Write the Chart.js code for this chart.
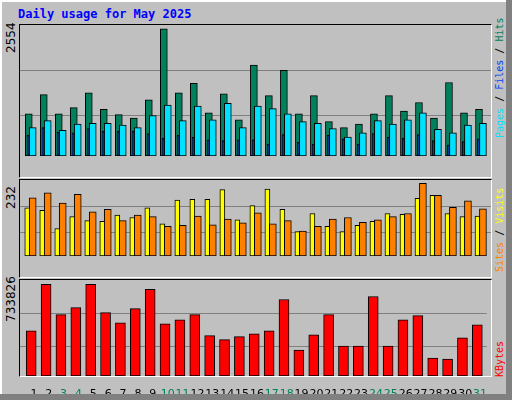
<!DOCTYPE html>
<html>
<head>
<meta charset="utf-8">
<script src="https://cdn.jsdelivr.net/npm/chart.js@4"></script>
<style>
body { margin:0; background:#fff; }
#frame { position:absolute; left:0; top:0; width:512px; height:400px; background:#c0c0c0; overflow:hidden; }
#frame:before { content:''; position:absolute; left:0; top:0; width:504px; height:392px; border-left:2px solid #fff; border-top:2px solid #fff; }
#frame:after { content:''; position:absolute; right:0; top:0; width:6px; height:400px; background:#808080; }
#bot { position:absolute; left:0; bottom:0; width:512px; height:6px; background:#808080; }
.box { position:absolute; border-top:1px solid #000; border-left:1px solid #000; border-right:1px solid #fff; border-bottom:1px solid #fff; }
canvas { position:absolute; }
.t { position:absolute; font-family:"DejaVu Sans Mono",monospace; white-space:nowrap; }
.rot { position:absolute; transform-origin:0 0; transform:rotate(-90deg); white-space:nowrap; }
</style>
</head>
<body>
<div id="frame">
  <div class="t" style="left:18px;top:7px;font-size:12px;font-weight:bold;color:#0000ff">Daily usage for May 2025</div>
  <div class="box" style="left:19px;top:24px;width:471px;height:152px"></div>
  <div class="box" style="left:19px;top:179px;width:471px;height:97px"></div>
  <div class="box" style="left:19px;top:279px;width:471px;height:96px"></div>
  <canvas id="c1" style="left:20px;top:25px" width="471" height="151"></canvas>
  <canvas id="c2" style="left:20px;top:180px" width="471" height="96"></canvas>
  <canvas id="c3" style="left:20px;top:280px" width="471" height="116"></canvas>
  <div class="rot" style="left:4px;top:53px;font:12px 'DejaVu Sans',sans-serif">2554</div>
  <div class="rot" style="left:4px;top:209px;font:12px 'DejaVu Sans',sans-serif">232</div>
  <div class="rot" style="left:4px;top:322px;font:12px 'DejaVu Sans',sans-serif">733826</div>
  <div class="rot" style="left:494px;top:138px;font:10px 'DejaVu Sans Mono',monospace"><span style="color:#00e0ff">Pages</span> <span style="color:#000">/</span> <span style="color:#0040ff">Files</span> <span style="color:#000">/</span> <span style="color:#00805c">Hits</span></div>
  <div class="rot" style="left:494px;top:272px;font:10px 'DejaVu Sans Mono',monospace"><span style="color:#ff8000">Sites</span> <span style="color:#000">/</span> <span style="color:#ffff00">Visits</span></div>
  <div class="rot" style="left:494px;top:377px;font:10px 'DejaVu Sans Mono',monospace;color:#ff0000">KBytes</div>
  <div id="bot"></div>
</div>
<script>
const days = Array.from({length: 31}, (_, i) => i + 1);
const weekend = [3, 4, 10, 11, 17, 18, 24, 25, 31];

const hits = [848, 1231, 848, 970, 1266, 935, 830, 761, 1126, 2554, 1266, 1457, 865, 1248, 726, 1823,
  1213, 1718, 848, 1213, 691, 569, 639, 848, 1213, 900, 1074, 761, 1475, 865, 935];
const files = [569, 709, 517, 639, 656, 656, 622, 569, 813, 1022, 709, 1004, 726, 1057, 569, 1004,
  952, 848, 691, 656, 552, 378, 465, 709, 639, 726, 865, 535, 465, 622, 656];
const pages = [413, 569, 482, 465, 552, 500, 500, 500, 448, 360, 413, 378, 326, 308, 326, 326,
  239, 430, 273, 239, 413, 343, 239, 448, 378, 360, 430, 308, 221, 291, 343];
const sites = [154, 146, 88, 126, 113, 111, 131, 123, 154, 103, 179, 181, 181, 212, 116, 161,
  214, 149, 78, 136, 95, 78, 98, 111, 136, 133, 184, 194, 136, 126, 128];
const visits = [186, 202, 169, 197, 141, 149, 113, 131, 126, 95, 98, 128, 100, 118, 106, 138,
  103, 113, 80, 95, 118, 123, 108, 116, 126, 136, 232, 194, 156, 176, 151];
const kbytes = [361700, 733826, 491100, 547700, 733826, 507300, 426400, 539600, 693400, 418300, 450700,
  491100, 323600, 291300, 315500, 337400, 361700, 612500, 207900, 329300, 491100, 240300, 240300,
  636700, 240300, 450700, 483000, 143200, 135100, 305000, 410200];

const XMIN = 0.067, XMAX = 31.45;

function ds(vals, off, w, color, order) {
  return {
    data: vals.map((v, i) => ({x: days[i] + off, y: v})),
    backgroundColor: color, borderColor: '#000', borderWidth: 1,
    barThickness: w, order: order, borderSkipped: false, grouped: false
  };
}

function panel(id, sets, max, showX) {
  new Chart(document.getElementById(id), {
    type: 'bar',
    data: {datasets: sets},
    options: {
      responsive: false, animation: false,
      plugins: {legend: {display: false}, tooltip: {enabled: false}},
      layout: {padding: 0},
      scales: {
        x: {
          type: 'linear', min: XMIN, max: XMAX, display: showX, offset: false,
          grid: {display: false}, border: {display: false},
          afterBuildTicks: s => { s.ticks = days.map(d => ({value: d})); },
          afterFit: s => { s.height = 20; },
          ticks: {
            autoSkip: false, maxRotation: 0, padding: 4,
            font: {family: 'DejaVu Sans', size: 11},
            color: c => weekend.includes(c.tick.value) ? '#00805c' : '#000'
          }
        },
        y: {
          min: 0, max: max,
          afterBuildTicks: s => { s.ticks = [{value: max * 0.31}, {value: max * 0.655}]; },
          afterFit: s => { s.width = 0; },
          ticks: {display: false},
          grid: {color: '#808080', drawTicks: false},
          border: {display: false}
        }
      }
    }
  });
}

panel('c1', [
  ds(hits, -0.35, 7, '#00805c', 3),
  ds(files, -0.087, 7, '#00e0ff', 2),
  ds(pages, -0.4, 2, '#0040ff', 1)
], 2629, false);
panel('c2', [
  ds(sites, -0.45, 5, '#ffff00', 2),
  ds(visits, -0.087, 7, '#ff8000', 1)
], 243, false);
panel('c3', [
  ds(kbytes, -0.18, 10, '#ff0000', 1)
], 768600, true);
</script>
</body>
</html>
